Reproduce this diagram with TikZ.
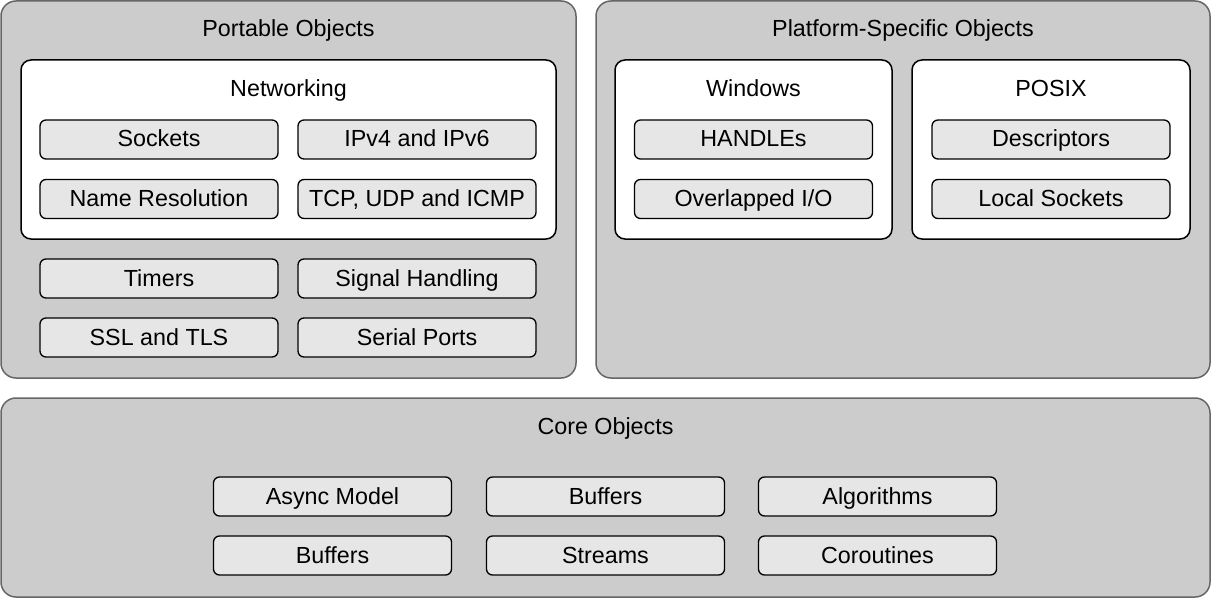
\documentclass[tikz,border=0pt]{standalone}
\usepackage{fontspec}
\setmainfont{Liberation Sans}
\definecolor{outerfill}{HTML}{CCCCCC}
\definecolor{outerline}{HTML}{666666}
\definecolor{leaffill}{HTML}{E6E6E6}
\begin{document}
\begin{tikzpicture}[x=1pt,y=-1pt,
  every node/.style={font=\fontsize{23.3}{28}\selectfont, inner sep=0pt, text height=17pt, text depth=2pt},
  outerbox/.style={draw=outerline, fill=outerfill, line width=1.5pt, rounded corners=15pt, rectangle},
  groupbox/.style={draw=black, fill=white, line width=1.5pt, rounded corners=10pt, rectangle, minimum height=179pt},
  leaf/.style={draw=black, fill=leaffill, line width=1.3pt, rounded corners=6pt, rectangle, minimum width=238pt, minimum height=39pt},
  title/.style={text=black}]
\useasboundingbox (0,0) rectangle (1211,599);
% outer boxes
\node[outerbox, minimum width=575pt, minimum height=377pt] (portable) at (288.5,189.5) {};
\node[outerbox, minimum width=614pt, minimum height=377pt] (platform) at (903,189.5) {};
\node[outerbox, minimum width=1209pt, minimum height=199pt] (core) at (605.5,497.5) {};
\node[title] (portableT) at (288.5,29.5) {Portable Objects};
\node[title] (platformT) at (903,29.5) {Platform-Specific Objects};
\node[title] (coreT) at (605.5,426.5) {Core Objects};
% group boxes
\node[groupbox, minimum width=535pt] (net) at (288.5,149.5) {};
\node[groupbox, minimum width=277pt] (win) at (753.5,149.5) {};
\node[groupbox, minimum width=278pt] (posix) at (1051,149.5) {};
\node[title] (netT) at (288.5,89.5) {Networking};
\node[title] (winT) at (753.5,89.5) {Windows};
\node[title] (posixT) at (1051,89.5) {POSIX};
% portable leaves
\node[leaf] (sockets) at (159,139.5) {Sockets};
\node[leaf] (ipv) at (417,139.5) {IPv4 and IPv6};
\node[leaf] (names) at (159,199) {Name Resolution};
\node[leaf] (tcp) at (417,199) {TCP, UDP and ICMP};
\node[leaf] (timers) at (159,278.5) {Timers};
\node[leaf] (signal) at (417,278.5) {Signal Handling};
\node[leaf] (ssl) at (159,337.5) {SSL and TLS};
\node[leaf] (serial) at (417,337.5) {Serial Ports};
% platform leaves
\node[leaf] (handles) at (753.5,139.5) {HANDLEs};
\node[leaf] (overlap) at (753.5,199) {Overlapped I/O};
\node[leaf] (descr) at (1051,139.5) {Descriptors};
\node[leaf] (local) at (1051,199) {Local Sockets};
% core leaves
\node[leaf] (async) at (332.5,496.5) {Async Model};
\node[leaf] (buf1) at (605.5,496.5) {Buffers};
\node[leaf] (algo) at (877.5,496.5) {Algorithms};
\node[leaf] (buf2) at (332.5,555.5) {Buffers};
\node[leaf] (streams) at (605.5,555.5) {Streams};
\node[leaf] (corout) at (877.5,555.5) {Coroutines};
\end{tikzpicture}
\end{document}
